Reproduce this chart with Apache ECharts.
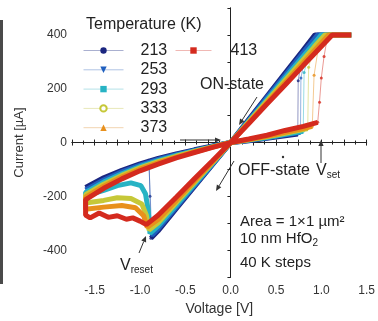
<!DOCTYPE html>
<html><head><meta charset="utf-8">
<script src="https://cdn.jsdelivr.net/npm/echarts@6/dist/echarts.min.js"></script>
<style>html,body{margin:0;padding:0;background:#fff}#c{width:378px;height:321px}</style>
</head><body><div id="c"></div>
<script>
// ---- data: [Voltage (V), Current (uA)] ----
const temps = ['213', '253', '293', '333', '373', '413'];
const colors = ['#1b2680', '#1f5fbf', '#27b3c4', '#c6c838', '#e8901c', '#d42a1e'];
const legendLineColors = ['#aab0d0', '#b0c4e4', '#b4e2e8', '#e8e8b8', '#f2d4b0', '#f0b8b4'];

const offPos213 = [[0,0],[0.2,7],[0.4,16],[0.6,25],[0.74,32]];
const set213 = [[0.74,32],[0.745,230],[0.8,344]];
const on213 = [[0.8,344],[0.93,400],[1.33,400],[0.93,400],[0.8,344],[0.6,258],[0.4,172],[0.2,86],[0,0],[-0.2,-82],[-0.4,-164],[-0.6,-246],[-0.8,-328],[-0.88,-356]];
const reset213 = [[-0.88,-356],[-0.89,-200],[-0.9,-69]];
const post213 = [[-0.9,-69],[-1.0,-80],[-1.2,-104],[-1.4,-132],[-1.6,-167]];
const offNeg213 = [[-1.6,-167],[-1.4,-131],[-1.2,-103],[-1.0,-79],[-0.8,-59],[-0.6,-42],[-0.4,-27],[-0.2,-13],[0,0]];

const offPos253 = [[0,0],[0.2,8],[0.4,18],[0.6,29],[0.77,38]];
const set253 = [[0.77,38],[0.775,240],[0.84,350]];
const on253 = [[0.84,350],[0.96,400],[1.33,400],[0.96,400],[0.8,334],[0.6,250],[0.4,167],[0.2,83],[0,0],[-0.2,-80],[-0.4,-160],[-0.6,-240],[-0.8,-320],[-0.87,-345]];
const reset253 = [[-0.87,-345],[-0.9,-90]];
const post253 = [[-0.9,-90],[-1.0,-95],[-1.2,-115],[-1.4,-142],[-1.6,-176]];
const offNeg253 = [[-1.6,-176],[-1.4,-139],[-1.2,-109],[-1.0,-84],[-0.8,-63],[-0.6,-45],[-0.4,-29],[-0.2,-14],[0,0]];

const offPos293 = [[0,0],[0.2,9],[0.4,19],[0.6,31],[0.8,42]];
const set293 = [[0.8,42],[0.81,260],[0.88,352]];
const on293 = [[0.88,352],[1.0,400],[1.33,400],[1.0,400],[0.8,320],[0.6,240],[0.4,160],[0.2,80],[0,0],[-0.2,-78],[-0.4,-155],[-0.6,-233],[-0.8,-310],[-0.89,-338]];
const post293 = [[-0.89,-338],[-0.91,-250],[-0.94,-190],[-0.99,-160],[-1.1,-150],[-1.25,-160],[-1.4,-178],[-1.6,-198]];
const offNeg293 = [[-1.6,-185],[-1.4,-147],[-1.2,-116],[-1.0,-89],[-0.8,-67],[-0.6,-48],[-0.4,-31],[-0.2,-15],[0,0]];

const offPos333 = [[0,0],[0.2,10],[0.4,21],[0.6,34],[0.85,52]];
const set333 = [[0.85,52],[0.86,280],[0.92,355]];
const on333 = [[0.92,355],[1.04,400],[1.33,400],[1.04,400],[0.8,308],[0.6,231],[0.4,154],[0.2,77],[0,0],[-0.2,-74],[-0.4,-149],[-0.6,-223],[-0.8,-298],[-0.9,-325]];
const post333 = [[-0.9,-325],[-0.93,-270],[-0.98,-228],[-1.1,-208],[-1.25,-205],[-1.4,-215],[-1.6,-225]];
const offNeg333 = [[-1.6,-194],[-1.4,-155],[-1.2,-122],[-1.0,-94],[-0.8,-71],[-0.6,-51],[-0.4,-33],[-0.2,-16],[0,0]];

const offPos373 = [[0,0],[0.2,11],[0.4,23],[0.6,38],[0.8,52],[0.9,60]];
const set373 = [[0.9,60],[0.92,250],[0.97,358]];
const on373 = [[0.97,358],[1.08,400],[1.33,400],[1.08,400],[0.8,296],[0.6,222],[0.4,148],[0.2,74],[0,0],[-0.2,-72],[-0.4,-143],[-0.6,-215],[-0.8,-286],[-0.92,-315]];
const post373 = [[-0.92,-315],[-0.96,-272],[-1.05,-242],[-1.2,-234],[-1.4,-240],[-1.6,-248]];
const offNeg373 = [[-1.6,-203],[-1.4,-162],[-1.2,-128],[-1.0,-99],[-0.8,-75],[-0.6,-54],[-0.4,-35],[-0.2,-17],[0,0]];

const offPos413 = [[0,0],[0.2,13],[0.4,27],[0.6,45],[0.8,60],[0.96,75]];
const set413 = [[0.96,75],[0.98,150],[1.0,240],[1.03,320],[1.06,378]];
const on413 = [[1.06,378],[1.12,400],[1.33,400],[1.12,400],[0.8,286],[0.6,214],[0.4,143],[0.2,71],[0,0],[-0.2,-68],[-0.4,-135],[-0.6,-203],[-0.8,-270],[-0.93,-305]];
const post413 = [[-0.93,-305],[-1.0,-292],[-1.08,-280],[-1.15,-285],[-1.25,-272],[-1.35,-278],[-1.45,-262],[-1.55,-280],[-1.6,-270]];
const offNeg413 = [[-1.6,-212],[-1.4,-170],[-1.2,-135],[-1.0,-105],[-0.8,-80],[-0.6,-57],[-0.4,-37],[-0.2,-18],[0,0]];

const xTicks = ['-1.5', '-1.0', '-0.5', '0.0', '0.5', '1.0', '1.5'];
const yTicks = ['-400', '-200', '0', '200', '400'];

// ---- build ----
function joinParts(parts) {
  const out = [];
  parts.forEach((p, i) => { if (i) out.push([p[0][0], '-']); p.forEach(q => out.push(q)); });
  return out;
}
const thick = {
  '213': joinParts([offPos213, on213, post213.concat(offNeg213)]),
  '253': joinParts([offPos253, on253, post253.concat(offNeg253)]),
  '293': joinParts([offPos293, on293.concat(post293, offNeg293)]),
  '333': joinParts([offPos333, on333.concat(post333, offNeg333)]),
  '373': joinParts([offPos373, on373.concat(post373, offNeg373)]),
  '413': joinParts([offPos413, on413.concat(post413, offNeg413)])
};
const thin = {
  '213': joinParts([set213, reset213]),
  '253': joinParts([set253, reset253]),
  '293': set293, '333': set333, '373': set373, '413': set413
};
const symbols = ['circle', 'path://M0,0 L10,0 L5,9 Z', 'rect', 'emptyCircle', 'triangle', 'rect'];

const series = [];
temps.forEach((t, i) => {
  series.push({
    name: t, type: 'line', data: thick[t], color: colors[i],
    symbol: symbols[i], showSymbol: false, connectNulls: false,
    lineStyle: { width: 5, color: colors[i] }, z: 2 + i
  });
});
temps.forEach((t, i) => {
  series.push({
    name: t, type: 'line', data: thin[t], color: colors[i],
    symbol: 'circle', symbolSize: 3, showSymbol: true, connectNulls: false,
    itemStyle: { color: colors[i], opacity: 0.8 },
    lineStyle: { width: 0.8, color: colors[i], opacity: 0.6 }, z: 2 + i
  });
});

const FONT = '"Liberation Sans", Arial, sans-serif';
const TXT = '#222';

function arrow(x1, y1, x2, y2) {
  const a = Math.atan2(y2 - y1, x2 - x1), L = 6, W = 2.6;
  const bx = x2 - L * Math.cos(a), by = y2 - L * Math.sin(a);
  const nx = -Math.sin(a) * W, ny = Math.cos(a) * W;
  return [
    { type: 'line', shape: { x1, y1, x2: bx, y2: by }, style: { stroke: '#333', lineWidth: 1 }, z: 100 },
    { type: 'polygon', shape: { points: [[x2, y2], [bx + nx, by + ny], [bx - nx, by - ny]] }, style: { fill: '#333' }, z: 100 }
  ];
}
function txt(x, y, text, size, rich) {
  return { type: 'text', x, y, z: 100, style: { text, fill: TXT, font: size + 'px ' + FONT, fontFamily: FONT, fontSize: size, verticalAlign: 'middle', rich } };
}

const graphics = [
  { type: 'rect', shape: { x: 0, y: 20, width: 3, height: 264 }, style: { fill: '#4a4a4a' } },
  txt(86, 25, 'Temperature (K)', 16),
  txt(200, 85, 'ON-state', 16),
  txt(238, 171, 'OFF-state', 16),
  txt(316, 171, '{v|V}{s|set}', 16, { v: { fontSize: 16, fontFamily: FONT, fill: TXT }, s: { fontSize: 10, fontFamily: FONT, fill: TXT, padding: [9, 0, 0, 0] } }),
  txt(240, 222, 'Area = 1×1 µm²', 15),
  txt(240, 239, '{a|10 nm HfO}{s|2}', 15, { a: { fontSize: 15, fontFamily: FONT, fill: TXT }, s: { fontSize: 10, fontFamily: FONT, fill: TXT, padding: [8, 0, 0, 0] } }),
  txt(240, 263, '40 K steps', 15),
  txt(120, 266, '{v|V}{s|reset}', 16, { v: { fontSize: 16, fontFamily: FONT, fill: TXT }, s: { fontSize: 10, fontFamily: FONT, fill: TXT, padding: [9, 0, 0, 0] } }),
  { type: 'circle', shape: { cx: 283, cy: 157, r: 1.2 }, style: { fill: '#333' }, z: 100 }
].concat(
  arrow(257, 97, 239, 125),
  arrow(180, 140, 221, 140),
  arrow(234, 161, 216, 191),
  arrow(321, 163, 321, 140),
  arrow(139, 253, 146, 236)
);

const legendCommon = {
  orient: 'vertical', padding: 0, itemGap: 0.3, itemWidth: 40, itemHeight: 8,
  textStyle: { fontSize: 16, fontFamily: FONT, color: TXT, lineHeight: 19, padding: [0, 0, 0, 12] },
  lineStyle: { width: 1 }, selectedMode: false
};
const legendItems = temps.map((t, i) => ({ name: t, lineStyle: { color: legendLineColors[i], width: 1 } }));

const chart = echarts.init(document.getElementById('c'), null, { renderer: 'canvas' });
chart.setOption({
  animation: false,
  backgroundColor: '#fff',
  grid: { left: 72, right: 5, top: 8, bottom: 37 },
  legend: [
    Object.assign({}, legendCommon, { data: legendItems.slice(0, 5), left: 83, top: 41 }),
    Object.assign({}, legendCommon, { data: legendItems.slice(5), left: 175, top: 41, textStyle: Object.assign({}, legendCommon.textStyle, { padding: [0, 0, 0, 14] }), itemWidth: 36 })
  ],
  xAxis: [{
    type: 'value', min: -1.75, max: 1.5, interval: 0.25,
    name: 'Voltage [V]', nameLocation: 'middle', nameGap: 24,
    nameTextStyle: { fontSize: 14, fontFamily: FONT, color: '#333' },
    axisLine: { lineStyle: { color: '#222', width: 1 } },
    axisTick: { inside: true, length: 3, lineStyle: { color: '#222' } },
    minorTick: { show: true, splitNumber: 2, length: 2, lineStyle: { color: '#222' } },
    splitLine: { show: false },
    axisLabel: { margin: 8, fontSize: 12, fontFamily: FONT, color: '#333',
      formatter: v => { const r = Math.round(v * 100); const s = (r / 100).toFixed(1); return (r % 50 === 0 && xTicks.includes(s)) ? s : ''; } }
  }, {
    type: 'value', position: 'top', min: -1.75, max: 1.5, interval: 0.25,
    axisLine: { lineStyle: { color: '#222', width: 1 } },
    axisTick: { inside: true, length: 3, lineStyle: { color: '#222' } },
    minorTick: { show: true, splitNumber: 2, length: 2, lineStyle: { color: '#222' } },
    splitLine: { show: false }, axisLabel: { show: false }
  }],
  yAxis: [{
    type: 'value', min: -500, max: 500, interval: 100,
    name: 'Current [µA]', nameLocation: 'middle', nameGap: 46,
    nameTextStyle: { fontSize: 13, fontFamily: FONT, color: '#333' },
    axisLine: { show: true, lineStyle: { color: '#222', width: 1 } },
    axisTick: { show: true, inside: false, length: 3, lineStyle: { color: '#222' } },
    splitLine: { show: false },
    axisLabel: { margin: 5, fontSize: 12, fontFamily: FONT, color: '#333',
      formatter: v => (yTicks.includes(String(v)) ? String(v) : '') }
  }, {
    type: 'value', position: 'right', min: -500, max: 500, interval: 100,
    axisLine: { show: true, lineStyle: { color: '#222', width: 1 } },
    axisTick: { show: true, inside: true, length: 3, lineStyle: { color: '#222' } },
    splitLine: { show: false }, axisLabel: { show: false }
  }],
  series: series,
  graphic: graphics
});
</script>
</body></html>
